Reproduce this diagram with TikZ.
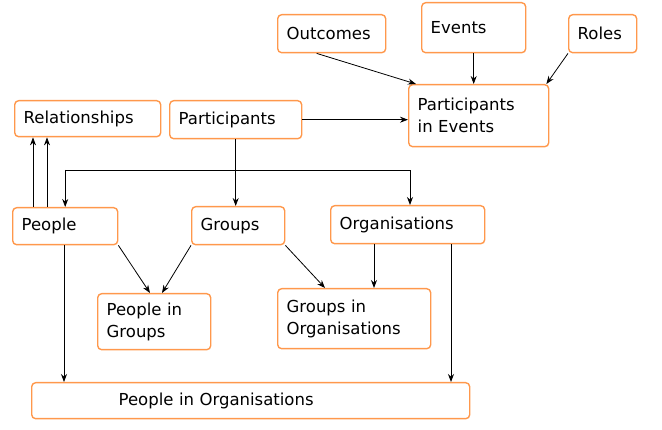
\documentclass[tikz,border=0pt]{standalone}
\usepackage{fontspec}
\setmainfont{DejaVu Sans}
\usetikzlibrary{arrows.meta}

\tikzset{
  box/.style={draw=orange!85!red!70, line width=1.4pt, rounded corners=4pt,
    anchor=north west, align=left, inner xsep=9pt, inner ysep=0pt,
    font=\fontsize{16.5}{22}\selectfont},
  link/.style={-{Stealth[length=8pt,width=6pt]}, line width=0.8pt}
}

% box from (x1,y1) with width w and height h
\newcommand{\entity}[6]{
\node [box, minimum width=#4pt, minimum height=#5pt, text width=#4pt-18pt] (#1) at (#2,#3) {#6};
}

\begin{document}
\begin{tikzpicture}[x=1pt,y=-1pt]
\useasboundingbox (0,0) rectangle (662,430);

\entity{outcomes}{277}{14}{108}{38}{Outcomes}
\entity{events}{421}{2}{104}{50}{Events\\[-6pt]}
\entity{roles}{568}{14}{68}{38}{Roles}
\entity{partev}{408}{84}{140}{62}{Participants\\in Events}
\entity{relat}{14}{100}{146}{36}{Relationships}
\entity{partic}{169}{100}{132}{38}{Participants}
\entity{people}{12}{207}{105}{37}{People}
\entity{groups}{191}{206}{93}{38}{Groups}
\entity{orgs}{330}{205}{154}{38}{Organisations}
\entity{pgroups}{97}{293}{113}{56}{People in\\Groups}
\entity{gorgs}{277}{288}{153}{60}{Groups in\\Organisations}
\entity{porgs}{31}{382}{438}{36}{\hspace*{78pt}People in Organisations}

\coordinate (split) at (partic.south |- 0,170);
\coordinate (toorgs) at (410,170);

\draw [link] (outcomes.south) ++(-15,0) -- ([xshift=8pt]partev.north west);
\draw [link] (events.south) -- (events.south |- partev.north);
\draw [link] (roles.south west) -- ([xshift=-3pt]partev.north east);
\draw [link] (partic.east) -- (partev.west |- partic.east);

\draw [link] ([xshift=21pt]people.north west) -- ([xshift=19pt]relat.south west);
\draw [link] ([xshift=35pt]people.north west) -- ([xshift=33pt]relat.south west);

\draw [link] (partic.south) -- (partic.south |- groups.north);
\draw [link] (split -| people.north) -- (people.north);
\draw [link] (split -| people.north) -- (toorgs) -- (toorgs |- orgs.north);

\draw [link] (people.south east) -- ([xshift=53pt]pgroups.north west);
\draw [link] (groups.south west) -- ([xshift=65pt]pgroups.north west);
\draw [link] (groups.south east) -- ([xshift=48pt]gorgs.north west);
\draw [link] ([xshift=44pt]orgs.south west) -- ([xshift=97pt]gorgs.north west);
\draw [link] ([xshift=121pt]orgs.south west) -- ([xshift=420pt]porgs.north west);
\draw [link] ([xshift=52pt]people.south west) -- ([xshift=33pt]porgs.north west);
\end{tikzpicture}
\end{document}
